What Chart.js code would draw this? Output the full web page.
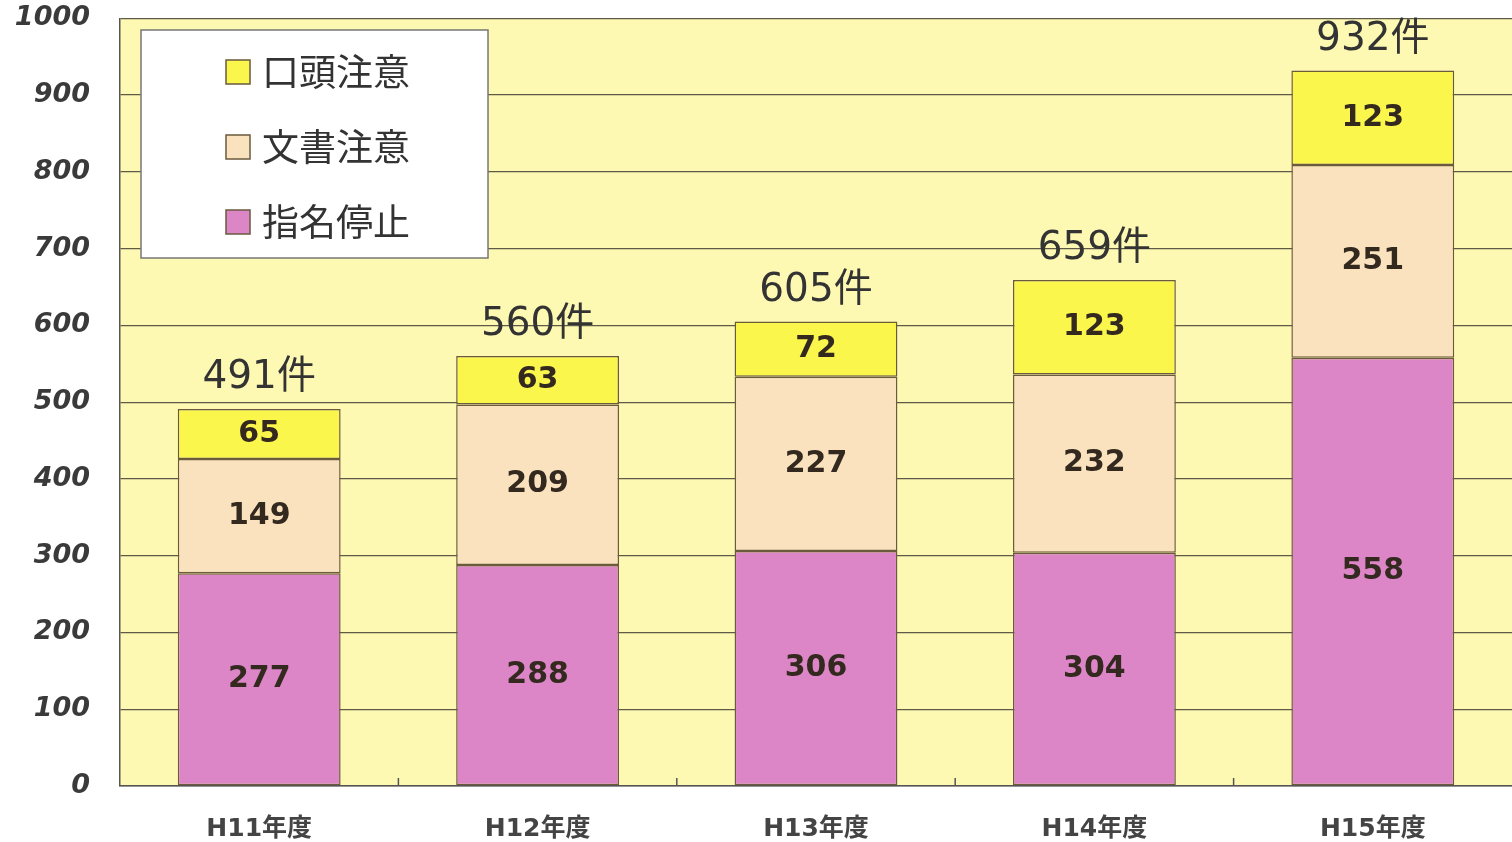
<!DOCTYPE html>
<html>
<head>
<meta charset="utf-8">
<script src="https://cdn.jsdelivr.net/npm/chart.js@4/dist/chart.umd.min.js"></script>
<style>
  html, body { margin: 0; padding: 0; background: #fff; overflow: hidden; }
  #wrap { width: 1512px; height: 842px; overflow: hidden; }
  #c { display: block; margin-top: -13px; }
</style>
</head>
<body>
<div id="wrap"><canvas id="c" width="1512" height="855"></canvas></div>
<script>
const years    = ["H11年度", "H12年度", "H13年度", "H14年度", "H15年度"];
const suspend  = [277, 288, 306, 304, 558];   // 指名停止
const written  = [149, 209, 227, 232, 251];   // 文書注意
const verbal   = [65, 63, 72, 123, 123];      // 口頭注意
const yTicks   = [0, 100, 200, 300, 400, 500, 600, 700, 800, 900, 1000];

const JP = '"Noto Sans CJK JP", "Noto Sans", sans-serif';
const VERD = '"DejaVu Sans", Verdana, "Noto Sans CJK JP", sans-serif';
const BORDER = "#6b5a3e";
const SHIFT = 13; // canvas is pulled up by this much so the plot top sits near the page edge

// Plot background, category tick marks, segment and total labels, legend box
const decor = {
  id: "decor",
  beforeDraw(chart) {
    const { ctx, chartArea: a } = chart;
    ctx.save();
    ctx.fillStyle = "#fdf9b3";
    ctx.fillRect(a.left, a.top, a.right - a.left, a.bottom - a.top);
    ctx.restore();
  },
  afterDatasetsDraw(chart) {
    const { ctx, chartArea: a, scales } = chart;
    const x = scales.x;
    ctx.save();

    // little inward ticks between categories
    ctx.strokeStyle = "#555";
    ctx.lineWidth = 1.5;
    const half = (x.getPixelForValue(1) - x.getPixelForValue(0)) / 2;
    for (let i = 1; i < years.length; i++) {
      const px = x.getPixelForValue(i) - half;
      ctx.beginPath(); ctx.moveTo(px, a.bottom); ctx.lineTo(px, a.bottom - 8); ctx.stroke();
    }

    // value inside each segment
    ctx.fillStyle = "#33291f";
    ctx.font = 'bold 30px ' + VERD;
    ctx.textAlign = "center";
    ctx.textBaseline = "middle";
    chart.data.datasets.forEach((ds, di) => {
      chart.getDatasetMeta(di).data.forEach((bar, i) => {
        ctx.fillText(ds.data[i], bar.x, (bar.y + bar.base) / 2);
      });
    });

    // total above each bar
    ctx.fillStyle = "#333";
    ctx.font = "39px " + VERD;
    ctx.textBaseline = "alphabetic";
    const topMeta = chart.getDatasetMeta(chart.data.datasets.length - 1);
    years.forEach((_, i) => {
      const total = suspend[i] + written[i] + verbal[i];
      const bar = topMeta.data[i];
      ctx.fillText(total + "件", bar.x, bar.y - 21);
    });

    // legend box
    const lx = 141, ly = 30 + SHIFT, lw = 347, lh = 228;
    ctx.fillStyle = "#ffffff";
    ctx.fillRect(lx, ly, lw, lh);
    ctx.strokeStyle = "#777";
    ctx.lineWidth = 1.5;
    ctx.strokeRect(lx, ly, lw, lh);
    const order = [2, 1, 0];
    ctx.font = "37px " + JP;
    ctx.textAlign = "left";
    ctx.textBaseline = "middle";
    order.forEach((di, row) => {
      const ds = chart.data.datasets[di];
      const cy = 72 + SHIFT + row * 75;
      ctx.fillStyle = ds.backgroundColor;
      ctx.fillRect(226, cy - 12, 24, 24);
      ctx.strokeStyle = BORDER;
      ctx.lineWidth = 1.5;
      ctx.strokeRect(226, cy - 12, 24, 24);
      ctx.fillStyle = "#333";
      ctx.fillText(ds.label, 262, cy);
    });
    ctx.restore();
  }
};

const common = { borderColor: BORDER, borderWidth: 1.5, borderSkipped: false,
                 barPercentage: 0.585, categoryPercentage: 1 };

new Chart(document.getElementById("c"), {
  type: "bar",
  data: {
    labels: years,
    datasets: [
      { label: "指名停止", data: suspend, backgroundColor: "#dc86c8", ...common },
      { label: "文書注意", data: written, backgroundColor: "#fae2bf", ...common },
      { label: "口頭注意", data: verbal,  backgroundColor: "#fbf64c", ...common }
    ]
  },
  options: {
    responsive: false,
    animation: false,
    layout: { padding: { top: 3, right: 0, left: 0, bottom: 0 } },
    plugins: { legend: { display: false }, tooltip: { enabled: false } },
    scales: {
      x: {
        stacked: true,
        grid: { display: false },
        border: { color: "#555", width: 1.5 },
        ticks: { color: "#444", padding: 20, font: { family: VERD, size: 25, weight: "bold" } },
        afterFit: (s) => { s.height = 56; }
      },
      y: {
        stacked: true,
        min: 0,
        max: 1000,
        afterBuildTicks: (s) => { s.ticks = yTicks.map(v => ({ value: v })); },
        grid: { color: "#5f5a45", lineWidth: 1.3, drawTicks: false },
        border: { color: "#555", width: 1.5 },
        ticks: {
          color: "#3a3a3a",
          padding: 30,
          callback: (v) => String(v),
          font: { family: VERD, size: 27, weight: "bold", style: "italic", lineHeight: 0.1 }
        },
        afterFit: (s) => { s.width = 120; }
      }
    }
  },
  plugins: [decor]
});
</script>
</body>
</html>
